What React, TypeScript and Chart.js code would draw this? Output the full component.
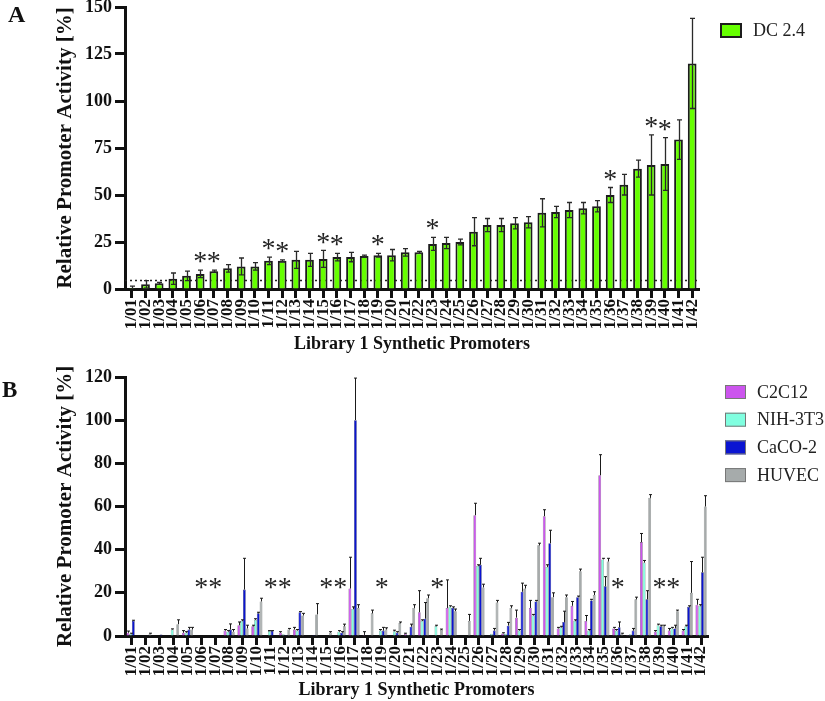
import React, { useEffect, useRef } from "react";
import { Chart, registerables } from "chart.js";
Chart.register(...registerables);

const FONT = "'Liberation Serif', 'Times New Roman', serif";

const categories = [
  "1/01", "1/02", "1/03", "1/04", "1/05", "1/06", "1/07", "1/08", "1/09", "1/10",
  "1/11", "1/12", "1/13", "1/14", "1/15", "1/16", "1/17", "1/18", "1/19", "1/20",
  "1/21", "1/22", "1/23", "1/24", "1/25", "1/26", "1/27", "1/28", "1/29", "1/30",
  "1/31", "1/32", "1/33", "1/34", "1/35", "1/36", "1/37", "1/38", "1/39", "1/40",
  "1/41", "1/42",
];

// Panel A: DC 2.4
const dcValues = [
  0.5, 2.5, 3, 5.5, 7, 8, 9.5, 11, 12, 12,
  15, 15, 15.5, 15.5, 16, 17, 17, 17.5, 18, 18,
  19.5, 19.5, 24, 24.5, 25, 30.5, 34, 34, 35, 35.5,
  40.5, 41, 42, 43, 44, 50, 55.5, 64, 66, 66.5,
  79.5, 120,
];
const dcErrors = [
  1, 2, 0.5, 3, 2.5, 2, 0.5, 2, 4.5, 2,
  2, 0.5, 4.5, 3.5, 4.5, 2, 2.5, 0.5, 1, 3,
  2, 0.5, 3.5, 3, 1.5, 7.5, 3.5, 3.5, 3, 3,
  7.5, 3, 4, 3, 3, 4, 5.5, 4.5, 16, 14,
  10.5, 24,
];
const starIndices = [5, 6, 10, 11, 14, 15, 18, 22, 35, 38, 39];
const thresholdA = 5;

// Panel B
const c2c12Values = [
  1.5, 0, 0, 0, 1.5, 0, 0, 2.5, 5, 4.5,
  0, 1.5, 3, 0, 0, 0, 22, 0.5, 0, 0,
  1, 11, 0, 13, 0, 56, 0.3, 1.2, 8.5, 13,
  55.5, 3.5, 14, 7, 74.5, 3.5, 0.5, 43.5, 2, 2.5,
  2.5, 14.5,
];
const c2c12Errors = [
  0.8, 0, 0, 0, 1, 0, 0, 0.5, 1.5, 0.5,
  0, 0.5, 1, 0, 0, 0, 14.5, 1.5, 0, 0,
  0.3, 10, 0, 13, 0, 5.5, 0, 0.3, 3.5, 3.5,
  3, 0.5, 2, 2.5, 9.5, 0.5, 0, 4, 0.5, 1,
  0.5, 2.5,
];
const nihValues = [
  1, 0, 0, 3, 1.5, 0, 0, 2, 7, 7.5,
  2.3, 0.8, 2.5, 0, 0, 2, 12.5, 0, 2.5, 2.2,
  0.5, 7, 4.6, 13.5, 0, 32.5, 1, 1, 2.5, 9.5,
  32, 4, 7, 2.5, 35.5, 2.5, 0.8, 34, 5, 3.5,
  4.5, 14,
];
const nihErrors = [
  0.3, 0, 0, 0.3, 0.5, 0, 0, 0.5, 0.5, 0.5,
  0.2, 0, 0.5, 0, 0, 0.5, 1, 0, 0.5, 0.5,
  0, 0.5, 0.4, 0.5, 0, 0.5, 0, 0, 0.5, 0.5,
  1, 0.5, 0.5, 0.5, 0.5, 0.5, 0, 1, 0.5, 0.5,
  0.5, 0.5,
];
const cacoValues = [
  7, 0.3, 0.7, 0, 3, 0, 0, 3, 21.5, 10.5,
  2.3, 0.5, 11, 0.5, 0, 1.5, 100, 0.3, 2.5, 1.5,
  4.3, 8, 0, 13, 0, 33, 2.5, 4.8, 20.5, 16,
  43, 6.5, 18, 16.5, 23, 4, 2.5, 17, 4.5, 3.5,
  13.5, 29.5,
];
const cacoErrors = [
  0.3, 0, 0, 0, 1, 0, 0, 2.6, 14.5, 0.5,
  0.2, 0, 0.3, 0, 0, 0.5, 19.5, 0, 1.5, 0.5,
  1.2, 7.5, 0, 0.5, 0, 3, 1, 1.5, 4, 0.5,
  6, 5, 0.5, 0.5, 4.5, 2.5, 1, 4, 0.5, 1.5,
  0.5, 7,
];
const huvecValues = [
  0, 1, 0, 5.5, 3, 0, 0, 2, 3.5, 16,
  0, 3, 9.5, 10, 1.5, 4.5, 13, 10.5, 3, 6,
  13, 17.5, 2.8, 11.5, 7, 22.5, 15.5, 13, 22, 42,
  18, 18, 30, 19, 34.5, 1, 17, 64, 4.5, 11.5,
  20, 60,
];
const huvecErrors = [
  0, 0.3, 0, 2, 1, 0, 0, 1, 1.5, 1.5,
  0, 0.5, 1, 5, 0.5, 1, 1.5, 1.5, 0.8, 0.5,
  1.5, 1.5, 0.4, 1, 3, 1.5, 1, 1, 1.5, 1,
  2, 1, 1, 1.5, 1.5, 0.3, 1, 1.5, 0.5, 0.5,
  14.5, 5,
];
const starLevelB = 24.6;

const errorBarPlugin = {
  id: "errbars",
  afterDatasetsDraw(chart: any) {
    const { ctx } = chart;
    const yScale = chart.scales.y;
    chart.data.datasets.forEach((ds: any, di: number) => {
      if (!ds.errors) return;
      const meta = chart.getDatasetMeta(di);
      ctx.save();
      ctx.strokeStyle = ds.errorColor || "#222";
      ctx.lineWidth = ds.errorWidth || 1;
      meta.data.forEach((bar: any, i: number) => {
        const v = ds.data[i];
        const e = ds.errors[i];
        if (!e) return;
        const x = Math.round(bar.x) + 0.5;
        const yTop = yScale.getPixelForValue(v + e);
        const yBot = ds.errorBoth
          ? yScale.getPixelForValue(Math.max(0, v - e))
          : yScale.getPixelForValue(v);
        const cap = (ds.capWidth || 4) / 2;
        ctx.beginPath();
        ctx.moveTo(x, yBot);
        ctx.lineTo(x, yTop);
        ctx.moveTo(x - cap, yTop);
        ctx.lineTo(x + cap, yTop);
        if (ds.errorBoth && v - e > 0) {
          ctx.moveTo(x - cap, yBot);
          ctx.lineTo(x + cap, yBot);
        }
        ctx.stroke();
      });
      ctx.restore();
    });
  },
};

function makeStarPlugin(indices: number[], mode: "A" | "B") {
  return {
    id: "stars" + mode,
    afterDatasetsDraw(chart: any) {
      const { ctx } = chart;
      const xs = chart.scales.x;
      const ys = chart.scales.y;
      const size = mode === "A" ? 28 : 28;
      ctx.save();
      ctx.fillStyle = "#222";
      ctx.font = `${size}px ${FONT}`;
      ctx.textAlign = "center";
      ctx.textBaseline = "alphabetic";
      indices.forEach((i) => {
        const x = xs.getPixelForValue(i);
        let cy: number;
        if (mode === "A") {
          const ds: any = chart.data.datasets[0];
          cy = ys.getPixelForValue(ds.data[i] + ds.errors[i]) - 13;
        } else {
          cy = ys.getPixelForValue(starLevelB);
        }
        ctx.fillText("*", x, cy + 0.47 * size);
      });
      ctx.restore();
    },
  };
}

const thresholdPlugin = {
  id: "threshold",
  beforeDatasetsDraw(chart: any) {
    const { ctx, chartArea } = chart;
    const y = Math.round(chart.scales.y.getPixelForValue(thresholdA)) + 0.5;
    ctx.save();
    ctx.strokeStyle = "#222";
    ctx.lineWidth = 1.5;
    ctx.setLineDash([2, 3]);
    ctx.beginPath();
    ctx.moveTo(chartArea.left, y);
    ctx.lineTo(chartArea.right, y);
    ctx.stroke();
    ctx.restore();
  },
};

function makeLegendPlugin(x: number, y: number, boxW: number, boxH: number, gap: number, borderW: number, borderColor: string) {
  return {
    id: "customLegend",
    afterDraw(chart: any) {
      const { ctx } = chart;
      ctx.save();
      chart.data.datasets.forEach((ds: any, i: number) => {
        const by = y + i * gap;
        ctx.fillStyle = ds.backgroundColor;
        ctx.fillRect(x, by, boxW, boxH);
        ctx.strokeStyle = borderColor;
        ctx.lineWidth = borderW;
        ctx.strokeRect(x + borderW / 2, by + borderW / 2, boxW - borderW, boxH - borderW);
        ctx.fillStyle = "#222";
        ctx.font = `18px ${FONT}`;
        ctx.textAlign = "left";
        ctx.textBaseline = "middle";
        ctx.fillText(ds.label, x + boxW + 11, by + boxH / 2 + 1);
      });
      ctx.restore();
    },
  };
}

function axisOptions(yMax: number, yStep: number, xHeight: number) {
  return {
    x: {
      grid: {
        display: true,
        drawOnChartArea: false,
        offset: false,
        tickLength: 9,
        tickWidth: 3,
        tickColor: "#111",
      },
      border: { display: true, color: "#111", width: 3 },
      ticks: {
        autoSkip: false,
        maxRotation: 90,
        minRotation: 90,
        padding: 1,
        color: "#111",
        font: { family: FONT, size: 17, weight: "bold" },
      },
      title: {
        display: true,
        text: "Library 1 Synthetic Promoters",
        color: "#111",
        font: { family: FONT, size: 18, weight: "bold" },
        padding: 0,
      },
      afterFit: (s: any) => {
        s.height = xHeight;
        s.paddingLeft = 0;
        s.paddingRight = 0;
      },
    },
    y: {
      min: 0,
      max: yMax,
      ticks: {
        stepSize: yStep,
        padding: 3,
        color: "#111",
        font: { family: FONT, size: 18, weight: "bold" },
      },
      grid: {
        display: true,
        drawOnChartArea: false,
        tickLength: 10,
        tickWidth: 3,
        tickColor: "#111",
      },
      border: { display: true, color: "#111", width: 3 },
      title: {
        display: true,
        text: "Relative Promoter Activity [%]",
        color: "#111",
        font: { family: FONT, size: 21, weight: "bold" },
        padding: { top: 53, bottom: 0 },
      },
      afterFit: (s: any) => {
        s.width = 125;
        s.paddingTop = 0;
        s.paddingBottom = 0;
      },
    },
  };
}

export default function App() {
  const refA = useRef<HTMLCanvasElement>(null);
  const refB = useRef<HTMLCanvasElement>(null);

  useEffect(() => {
    document.body.style.margin = "0";
    const chartA = new Chart(refA.current as HTMLCanvasElement, {
      type: "bar",
      data: {
        labels: categories,
        datasets: [
          {
            label: "DC 2.4",
            data: dcValues,
            backgroundColor: "#66FF00",
            borderColor: "#1c1c1c",
            borderWidth: 2,
            barPercentage: 0.64,
            categoryPercentage: 1,
            errors: dcErrors,
            errorBoth: true,
            errorColor: "#2a2a2a",
            errorWidth: 1.3,
            capWidth: 5,
          } as any,
        ],
      },
      options: {
        responsive: false,
        animation: false,
        layout: { padding: { left: 0, right: 126, top: 7, bottom: 0 } },
        plugins: { legend: { display: false }, tooltip: { enabled: false } },
        scales: axisOptions(150, 25, 66) as any,
      },
      plugins: [
        thresholdPlugin,
        errorBarPlugin,
        makeStarPlugin(starIndices, "A"),
        makeLegendPlugin(720, 23, 22, 15, 28, 2, "#1c1c1c"),
      ],
    });

    const common = { barPercentage: 1, categoryPercentage: 0.8, borderWidth: 0.6, errorColor: "#1a1a1a", errorWidth: 1, capWidth: 3 };
    const chartB = new Chart(refB.current as HTMLCanvasElement, {
      type: "bar",
      data: {
        labels: categories,
        datasets: [
          { label: "C2C12", data: c2c12Values, errors: c2c12Errors, backgroundColor: "#CC55EE", borderColor: "#6a4a70", ...common } as any,
          { label: "NIH-3T3", data: nihValues, errors: nihErrors, backgroundColor: "#80FFE0", borderColor: "#6a8a84", ...common } as any,
          { label: "CaCO-2", data: cacoValues, errors: cacoErrors, backgroundColor: "#0A14D2", borderColor: "#20246a", ...common } as any,
          { label: "HUVEC", data: huvecValues, errors: huvecErrors, backgroundColor: "#A6ABAB", borderColor: "#6a6e6e", ...common } as any,
        ],
      },
      options: {
        responsive: false,
        animation: false,
        layout: { padding: { left: 0, right: 117, top: 22, bottom: 0 } },
        plugins: { legend: { display: false }, tooltip: { enabled: false } },
        scales: axisOptions(120, 20, 65) as any,
      },
      plugins: [
        errorBarPlugin,
        makeStarPlugin(starIndices, "B"),
        makeLegendPlugin(725, 30, 21, 14, 27.7, 1, "#777"),
      ],
    });

    return () => {
      chartA.destroy();
      chartB.destroy();
    };
  }, []);

  const letter: React.CSSProperties = {
    position: "absolute",
    fontFamily: FONT,
    fontWeight: "bold",
    color: "#111",
    lineHeight: 1,
  };

  return (
    <div style={{ position: "relative", width: 825, height: 701, background: "#fff", overflow: "hidden" }}>
      <canvas ref={refA} width={825} height={355} style={{ position: "absolute", left: 0, top: 0 }} />
      <canvas ref={refB} width={825} height={346} style={{ position: "absolute", left: 0, top: 355 }} />
      <div style={{ ...letter, left: 8, top: 2, fontSize: 24 }}>A</div>
      <div style={{ ...letter, left: 2, top: 378, fontSize: 23 }}>B</div>
    </div>
  );
}
